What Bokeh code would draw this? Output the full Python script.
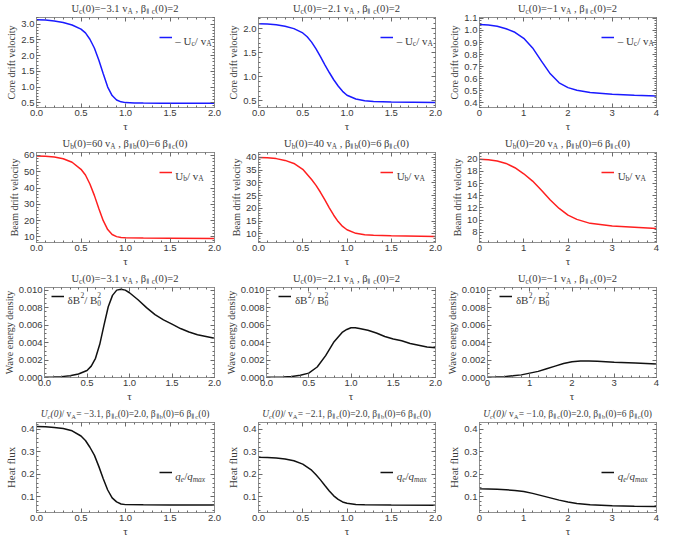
import numpy as np
from bokeh.plotting import figure
from bokeh.layouts import column, row
from bokeh.models import (Range1d, FixedTicker, PrintfTickFormatter, LinearAxis,
                          Label, Legend, LegendItem, Div)
from bokeh.embed import file_html
from bokeh.resources import INLINE

SERIF = "Liberation Serif"
SANS = "Liberation Sans"
FRAME = "#8f8f8f"
TICKC = "#6a6a6a"
TXT = "#3a3a3a"
BLUE = "#1a1aff"
RED = "#ff1f1f"
BLACK = "#111111"

# ------------------------------------------------------------------ data
# Row A: core drift velocity  -Uc / vA
tau_a1 = [0, 0.1, 0.2, 0.3, 0.4, 0.5, 0.55, 0.6, 0.65, 0.7, 0.75, 0.8, 0.85, 0.9, 0.95, 1.0, 1.1, 1.2, 1.4, 1.6, 1.8, 2.0]
core_a1 = [3.14, 3.13, 3.10, 3.05, 2.97, 2.84, 2.72, 2.52, 2.24, 1.86, 1.42, 1.0, 0.73, 0.59, 0.53, 0.505, 0.495, 0.49, 0.488, 0.486, 0.484, 0.482]
tau_a2 = [0, 0.1, 0.2, 0.3, 0.4, 0.5, 0.55, 0.6, 0.65, 0.7, 0.75, 0.8, 0.85, 0.9, 0.95, 1.0, 1.1, 1.2, 1.3, 1.5, 1.75, 2.0]
core_a2 = [2.10, 2.095, 2.08, 2.05, 2.0, 1.91, 1.83, 1.72, 1.58, 1.42, 1.25, 1.09, 0.94, 0.81, 0.70, 0.62, 0.54, 0.505, 0.49, 0.48, 0.475, 0.47]
tau_a3 = [0, 0.2, 0.4, 0.6, 0.8, 1.0, 1.2, 1.4, 1.6, 1.8, 2.0, 2.2, 2.5, 3.0, 3.5, 4.0]
core_a3 = [1.05, 1.045, 1.035, 1.015, 0.985, 0.935, 0.855, 0.745, 0.64, 0.565, 0.525, 0.503, 0.485, 0.47, 0.461, 0.455]

# Row B: beam drift velocity  Ub / vA
tau_b1 = [0, 0.1, 0.2, 0.3, 0.4, 0.5, 0.55, 0.6, 0.65, 0.7, 0.75, 0.8, 0.85, 0.9, 0.95, 1.0, 1.2, 1.5, 2.0]
beam_b1 = [59.6, 59.5, 59.0, 58.0, 55.8, 51.5, 48.0, 42.5, 35.5, 27.5, 20.0, 14.5, 11.5, 10.2, 9.7, 9.45, 9.3, 9.2, 9.0]
tau_b2 = [0, 0.1, 0.2, 0.3, 0.4, 0.5, 0.6, 0.65, 0.7, 0.75, 0.8, 0.85, 0.9, 0.95, 1.0, 1.1, 1.2, 1.3, 1.5, 2.0]
beam_b2 = [39.9, 39.8, 39.5, 38.8, 37.6, 35.3, 31.3, 29.0, 26.3, 23.3, 20.2, 17.3, 14.8, 12.9, 11.6, 10.2, 9.6, 9.4, 9.2, 9.0]
tau_b3 = [0, 0.2, 0.4, 0.6, 0.8, 1.0, 1.2, 1.4, 1.6, 1.8, 2.0, 2.2, 2.5, 3.0, 3.5, 4.0]
beam_b3 = [20.0, 19.9, 19.7, 19.3, 18.6, 17.6, 16.4, 14.9, 13.3, 11.9, 10.8, 10.1, 9.45, 9.0, 8.8, 8.6]

# Row C: wave energy density  dB^2 / B0^2
tau_c1 = [0, 0.1, 0.2, 0.3, 0.4, 0.5, 0.55, 0.6, 0.65, 0.7, 0.75, 0.8, 0.85, 0.9, 0.95, 1.0, 1.1, 1.2, 1.3, 1.4, 1.5, 1.6, 1.7, 1.8, 1.9, 2.0]
wave_c1 = [0.00003, 0.00005, 0.0001, 0.0002, 0.0004, 0.0008, 0.0013, 0.0022, 0.0038, 0.0060, 0.0081, 0.0094, 0.0100, 0.0101, 0.0100, 0.0097, 0.0089, 0.0080, 0.0072, 0.0066, 0.0061, 0.0056, 0.0052, 0.0049, 0.0047, 0.0045]
tau_c2 = [0, 0.1, 0.2, 0.3, 0.4, 0.5, 0.6, 0.7, 0.8, 0.9, 0.95, 1.0, 1.05, 1.1, 1.2, 1.3, 1.4, 1.5, 1.6, 1.7, 1.8, 1.9, 2.0]
wave_c2 = [0.00002, 0.00003, 0.00006, 0.00012, 0.00025, 0.0005, 0.0012, 0.0025, 0.0041, 0.0052, 0.0055, 0.0057, 0.0057, 0.0056, 0.0054, 0.0051, 0.0047, 0.0044, 0.0042, 0.0039, 0.0037, 0.0035, 0.0034]
tau_c3 = [0, 0.2, 0.4, 0.6, 0.8, 1.0, 1.2, 1.4, 1.6, 1.8, 2.0, 2.2, 2.4, 2.6, 2.8, 3.0, 3.5, 4.0]
wave_c3 = [0.00003, 0.00005, 0.0001, 0.0002, 0.0003, 0.0005, 0.0007, 0.001, 0.0013, 0.0016, 0.0018, 0.0019, 0.0019, 0.00185, 0.0018, 0.00175, 0.00165, 0.00155]

# Row D: heat flux  qe / qmax
tau_d1 = [0, 0.1, 0.2, 0.3, 0.4, 0.5, 0.55, 0.6, 0.65, 0.7, 0.75, 0.8, 0.85, 0.9, 0.95, 1.0, 1.2, 1.5, 2.0]
heat_d1 = [0.412, 0.411, 0.408, 0.403, 0.393, 0.37, 0.35, 0.32, 0.285, 0.235, 0.18, 0.13, 0.095, 0.077, 0.068, 0.065, 0.064, 0.063, 0.063]
tau_d2 = [0, 0.1, 0.2, 0.3, 0.4, 0.5, 0.6, 0.65, 0.7, 0.75, 0.8, 0.85, 0.9, 0.95, 1.0, 1.1, 1.2, 1.5, 2.0]
heat_d2 = [0.275, 0.274, 0.272, 0.268, 0.26, 0.245, 0.218, 0.198, 0.175, 0.15, 0.126, 0.104, 0.088, 0.077, 0.071, 0.066, 0.064, 0.063, 0.062]
tau_d3 = [0, 0.2, 0.4, 0.6, 0.8, 1.0, 1.2, 1.4, 1.6, 1.8, 2.0, 2.2, 2.5, 3.0, 3.5, 4.0]
heat_d3 = [0.135, 0.134, 0.133, 0.131, 0.128, 0.123, 0.115, 0.105, 0.095, 0.085, 0.077, 0.07, 0.064, 0.06, 0.058, 0.057]

# tick labels
x_ticks_2 = [0.0, 0.5, 1.0, 1.5, 2.0]
x_ticks_4 = [0, 1, 2, 3, 4]
y_ticks_a1 = [0.5, 1.0, 1.5, 2.0, 2.5, 3.0]
y_ticks_a2 = [0.5, 1.0, 1.5, 2.0]
y_ticks_a3 = [0.4, 0.5, 0.6, 0.7, 0.8, 0.9, 1.0, 1.1]
y_ticks_b1 = [10, 20, 30, 40, 50, 60]
y_ticks_b2 = [10, 15, 20, 25, 30, 35, 40]
y_ticks_b3 = [8, 10, 12, 14, 16, 18, 20]
y_ticks_c = [0.000, 0.002, 0.004, 0.006, 0.008, 0.010]
y_ticks_d = [0.1, 0.2, 0.3, 0.4]

y_labels = ["Core drift velocity", "Beam drift velocity", "Wave energy density", "Heat flux"]
x_label = "τ"
core_init = ["3.1", "2.1", "1"]
beam_init = ["60", "40", "20"]
heat_init = ["3.1", "2.1", "1.0"]

# ------------------------------------------------------------------ text helpers
CW = {" ": 0.25, ".": 0.25, ",": 0.25, "(": 0.333, ")": 0.333, "=": 0.564, "−": 0.564,
      "-": 0.333, "–": 0.5, "/": 0.278, "U": 0.722, "v": 0.5, "A": 0.722, "c": 0.444,
      "b": 0.5, "e": 0.444, "q": 0.5, "m": 0.778, "a": 0.444, "x": 0.5, "β": 0.55,
      "∥": 0.45, "δ": 0.5, "B": 0.667}


def tw(s, size):
    return sum(CW.get(ch, 0.5) for ch in s) * size


def rich(p, segs, base, x0, y0, color=TXT):
    """Lay out text segments (normal / sub / sup) as labels in frame screen units."""
    cx = x0
    for seg in segs:
        t, k = seg[0], seg[1]
        it = len(seg) > 2 and seg[2]
        s = base if k == "n" else base * 0.68
        dy = 0.0 if k == "n" else (-0.25 * base if k.startswith("sub") else 0.42 * base)
        core = t.strip()
        lead = len(t) - len(t.lstrip())
        trail = len(t) - len(t.rstrip())
        cx += lead * 0.25 * s
        if core:
            p.add_layout(Label(x=cx, y=y0 + dy, x_units="screen", y_units="screen",
                               text=core, text_font=SERIF, text_font_size=f"{s:.1f}px",
                               text_font_style="italic" if it else "normal",
                               text_color=color, text_baseline="alphabetic", text_align="left"))
        if k != "subna":
            cx += tw(core, s) + trail * 0.25 * s


def style_axis(ax, show_labels, fmt=None, label=None, label_size="10px"):
    ax.major_tick_in = 4
    ax.major_tick_out = 0
    ax.minor_tick_in = 2
    ax.minor_tick_out = 0
    ax.axis_line_color = FRAME
    ax.major_tick_line_color = TICKC
    ax.minor_tick_line_color = TICKC
    if show_labels:
        ax.major_label_text_font = SANS
        ax.major_label_text_font_size = "9.5px"
        ax.major_label_text_color = TXT
        ax.major_label_standoff = 2
        if fmt:
            ax.formatter = PrintfTickFormatter(format=fmt)
        ax.axis_label = label
        ax.axis_label_text_font = SERIF
        ax.axis_label_text_font_style = "normal"
        ax.axis_label_text_font_size = label_size
        ax.axis_label_text_color = TXT
        ax.axis_label_standoff = 1
    else:
        ax.major_label_text_font_size = "0px"
        ax.major_label_text_alpha = 0
        ax.major_label_standoff = 0


COL_W = [222, 221, 221]
LEFT = 36
RIGHT = 8
TITLE_H = 13
PLOT_H = 122
TOP = 4
BOTTOM = 28

SUB = "<span style='font-size:70%;vertical-align:-0.25em;line-height:0'>{}</span>"


def sub(s):
    return SUB.format(s)


def minor(lo, hi, step):
    return list(np.round(np.arange(lo, hi + step / 2, step), 6))


def panel(ci, t, v, color, xr, xt, xmin_step, xfmt, yr, yt, ymin_step, yfmt, ylabel, ylabel_size,
          title_html, title_size, leg_segs, leg_x, leg_yc, leg_size):
    w = COL_W[ci]
    fw = w - LEFT - RIGHT
    fh = PLOT_H - TOP - BOTTOM

    # title strip (HTML so that subscripts are real text)
    pad = 14
    html = (f"<div style=\"margin-left:{LEFT - pad}px;width:{fw + 2 * pad}px;text-align:center;"
            f"font-family:'{SERIF}';font-size:{title_size}px;line-height:12px;"
            f"white-space:nowrap;color:{TXT}\">{title_html}</div>")
    tf = Div(text=html, width=w, height=TITLE_H, margin=(0, 0, 0, 0))

    p = figure(width=w, height=PLOT_H, output_backend="svg", toolbar_location=None, tools="",
               x_range=Range1d(*xr), y_range=Range1d(*yr),
               min_border_left=LEFT, min_border_right=RIGHT, min_border_top=TOP,
               min_border_bottom=BOTTOM)
    p.xgrid.visible = False
    p.ygrid.visible = False
    p.outline_line_color = FRAME
    r = p.line(t, v, line_color=color, line_width=1.5)

    xminors = minor(xr[0], xr[1], xmin_step)
    yminors = minor(yt[0] - 5 * ymin_step, yt[-1] + 5 * ymin_step, ymin_step)
    p.xaxis.ticker = FixedTicker(ticks=xt, minor_ticks=xminors)
    p.yaxis.ticker = FixedTicker(ticks=yt, minor_ticks=yminors)
    style_axis(p.xaxis[0], True, xfmt, x_label, "11px")
    style_axis(p.yaxis[0], True, yfmt, ylabel, ylabel_size)
    ax_top = LinearAxis(ticker=FixedTicker(ticks=xt, minor_ticks=xminors))
    style_axis(ax_top, False)
    p.add_layout(ax_top, "above")
    ax_r = LinearAxis(ticker=FixedTicker(ticks=yt, minor_ticks=yminors))
    style_axis(ax_r, False)
    p.add_layout(ax_r, "right")

    # legend: glyph sample via Legend, text via labels
    lx = leg_x * fw
    lyc = leg_yc * fh
    leg = Legend(items=[LegendItem(label=" ", renderers=[r])], location=(lx, lyc - 5),
                 glyph_width=13, glyph_height=10, label_width=0, label_height=10,
                 label_standoff=0, padding=0, margin=0, spacing=0,
                 border_line_alpha=0, background_fill_alpha=0,
                 label_text_font_size="1px")
    p.add_layout(leg)
    rich(p, leg_segs, leg_size, lx + 16, lyc - 3.5)
    return column(tf, p)


def title_core(u):
    return f"U{sub('c')}(0)=−{u} v{sub('A')} ,  β{sub('∥ c')}(0)=2"


def title_beam(u):
    return f"U{sub('b')}(0)={u} v{sub('A')} , β{sub('∥b')}(0)=6 β{sub('∥c')}(0)"


def title_heat(u):
    return (f"<i>U</i>{sub('<i>c</i>')}<i>(0)</i>/ v{sub('A')}= −{u}, β{sub('∥c')}(0)=2.0, "
            f"β{sub('∥b')}(0)=6 β{sub('∥c')}(0)")


leg_core = [("– U", "n"), ("c", "sub"), ("/ v", "n"), ("A", "sub")]
leg_beam = [("U", "n"), ("b", "sub"), ("/ v", "n"), ("A", "sub")]
leg_wave = [("δB", "n"), ("2", "sup"), ("/ B", "n"), ("0", "subna"), ("2", "sup")]
leg_heat = [("q", "n", True), ("e", "sub", True), ("/", "n"), ("q", "n", True), ("max", "sub", True)]

core_t = [tau_a1, tau_a2, tau_a3]
core_v = [core_a1, core_a2, core_a3]
beam_t = [tau_b1, tau_b2, tau_b3]
beam_v = [beam_b1, beam_b2, beam_b3]
wave_t = [tau_c1, tau_c2, tau_c3]
wave_v = [wave_c1, wave_c2, wave_c3]
heat_t = [tau_d1, tau_d2, tau_d3]
heat_v = [heat_d1, heat_d2, heat_d3]

xr_list = [(0, 2), (0, 2), (0, 4)]
xt_list = [x_ticks_2, x_ticks_2, x_ticks_4]
xms = [0.1, 0.1, 0.2]
xfm = ["%.1f", "%.1f", "%d"]

core_yr = [(0.35, 3.21), (0.365, 2.23), (0.36, 1.108)]
core_yt = [y_ticks_a1, y_ticks_a2, y_ticks_a3]
core_ms = [0.1, 0.1, 0.02]
beam_yr = [(6.6, 61.8), (6.6, 41.9), (6.3, 21.1)]
beam_yt = [y_ticks_b1, y_ticks_b2, y_ticks_b3]
beam_ms = [2, 1, 0.5]
wave_yr = (0.0, 0.0103)
heat_yr = (0.03, 0.43)

r1, r2, r3, r4 = [], [], [], []
for i in range(3):
    r1.append(panel(i, core_t[i], core_v[i], BLUE, xr_list[i], xt_list[i], xms[i], xfm[i],
                    core_yr[i], core_yt[i], core_ms[i], "%.1f", y_labels[0], "10px",
                    title_core(core_init[i]), 10.5, leg_core, 0.69, 0.78, 11))
    r2.append(panel(i, beam_t[i], beam_v[i], RED, xr_list[i], xt_list[i], xms[i], xfm[i],
                    beam_yr[i], beam_yt[i], beam_ms[i], "%d", y_labels[1], "10px",
                    title_beam(beam_init[i]), 10.5, leg_beam, 0.69, 0.78, 11))
    r3.append(panel(i, wave_t[i], wave_v[i], BLACK, xr_list[i], xt_list[i], xms[i], xfm[i],
                    wave_yr, y_ticks_c, 0.0005, "%.3f", y_labels[2], "10px",
                    title_core(core_init[i]), 10.5, leg_wave, [0.04, 0.07, 0.07][i], 0.9, 11))
    r4.append(panel(i, heat_t[i], heat_v[i], BLACK, xr_list[i], xt_list[i], xms[i], xfm[i],
                    heat_yr, y_ticks_d, 0.02, "%.1f", y_labels[3], "11px",
                    title_heat(heat_init[i]), 9.5, leg_heat, 0.69, 0.44, 11))

layout = column(row(*r1), row(*r2), row(*r3), row(*r4))
open("out.html", "w").write(file_html(layout, INLINE))
